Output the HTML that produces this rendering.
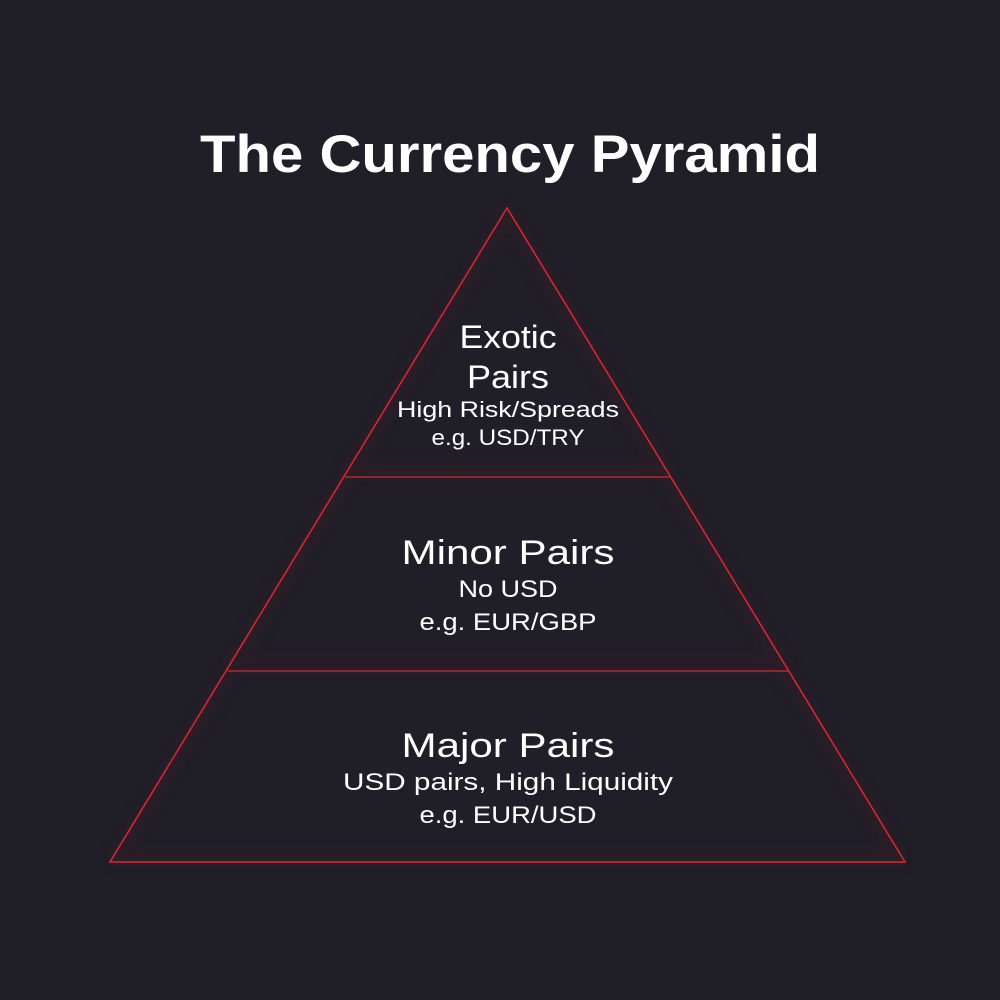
<!DOCTYPE html>
<html><head><style>
html,body{margin:0;padding:0;background:#201f28;}
svg{display:block}
text{font-family:"Liberation Sans",sans-serif;fill:#fff;text-anchor:middle;}
</style></head><body>
<svg width="1000" height="1000" viewBox="0 0 1000 1000">
<defs><filter id="b" x="-20%" y="-20%" width="140%" height="140%"><feGaussianBlur stdDeviation="6"/></filter></defs>
<rect width="1000" height="1000" fill="#201f28"/>
<g filter="url(#b)" stroke="#331e27" stroke-width="12" fill="none" opacity="0.7">
<polygon points="507,214 118,856 897,856"/>
<line x1="345" y1="470" x2="670" y2="470"/>
<line x1="228" y1="664" x2="788" y2="664"/>
</g>
<polygon points="507,208 110,862 905,862" fill="none" stroke="#e0252f" stroke-width="1.5"/>
<line x1="345" y1="477" x2="670" y2="477" stroke="#b8262e" stroke-width="1.5"/>
<line x1="228" y1="671" x2="788" y2="671" stroke="#b8262e" stroke-width="1.5"/>
<text x="510" y="172" font-size="53" font-weight="bold" textLength="620" lengthAdjust="spacingAndGlyphs">The Currency Pyramid</text>
<text x="508" y="348" font-size="32" textLength="97" lengthAdjust="spacingAndGlyphs">Exotic</text>
<text x="508" y="388" font-size="32" textLength="82" lengthAdjust="spacingAndGlyphs">Pairs</text>
<text x="508" y="417" font-size="22" textLength="222" lengthAdjust="spacingAndGlyphs">High Risk/Spreads</text>
<text x="508" y="445" font-size="22" textLength="153" lengthAdjust="spacingAndGlyphs">e.g. USD/TRY</text>
<text x="508" y="564" font-size="34" textLength="213" lengthAdjust="spacingAndGlyphs">Minor Pairs</text>
<text x="508" y="597" font-size="24" textLength="99" lengthAdjust="spacingAndGlyphs">No USD</text>
<text x="508" y="630" font-size="24" textLength="177" lengthAdjust="spacingAndGlyphs">e.g. EUR/GBP</text>
<text x="508" y="757" font-size="34" textLength="213" lengthAdjust="spacingAndGlyphs">Major Pairs</text>
<text x="508" y="790" font-size="24" textLength="330" lengthAdjust="spacingAndGlyphs">USD pairs, High Liquidity</text>
<text x="508" y="823" font-size="24" textLength="177" lengthAdjust="spacingAndGlyphs">e.g. EUR/USD</text>
</svg>
</body></html>
